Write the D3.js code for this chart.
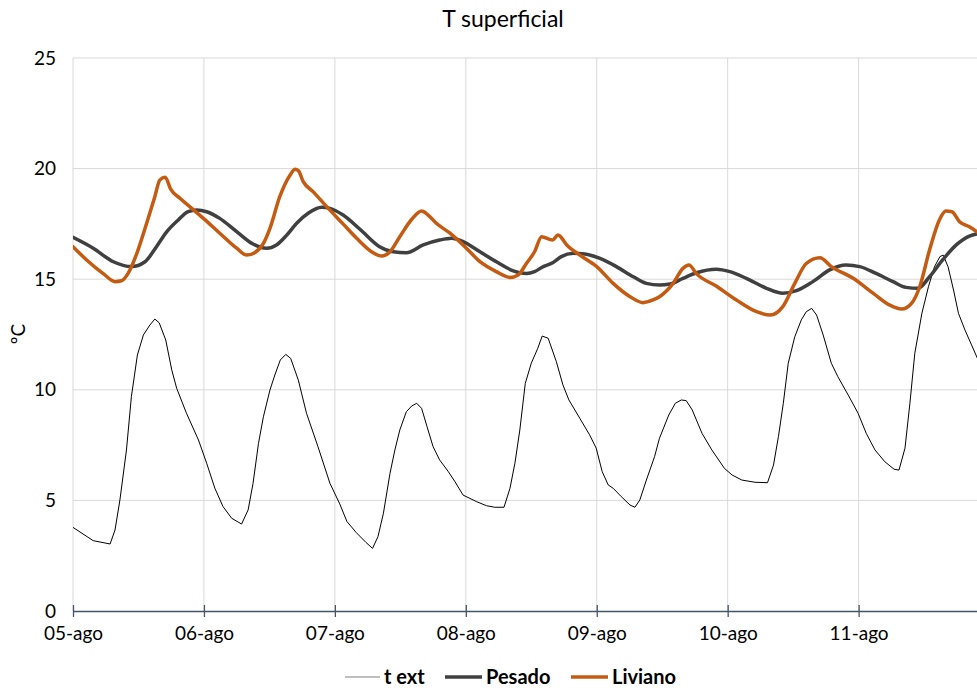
<!DOCTYPE html>
<html>
<head>
<meta charset="utf-8">
<script src="https://cdn.jsdelivr.net/npm/d3@7"></script>
<style>
  html, body { margin: 0; padding: 0; background: #fff; }
  svg { display: block; font-family: "Lato", "Open Sans", sans-serif; }
</style>
</head>
<body>
<svg id="chart" width="977" height="688"></svg>
<script>
// Hours since 05-ago 00:00 and temperatures (ºC)
const textHours = [0, 3.7, 6.8, 7.7, 8.6, 9.8, 10.7, 11.8, 12.9, 14.1, 15.0, 15.8, 17.0, 18.1, 19.0, 20.8, 23.0, 24.5, 26.0, 27.5, 29.1, 30.9, 32.1, 33.0, 34.0, 34.9, 36.1, 37.0, 38.0, 39.0, 39.9, 41.3, 42.8, 44.9, 47.1, 48.9, 50.2, 51.9, 53.7, 54.9, 55.9, 56.9, 58.1, 59.0, 59.9, 61.1, 62.1, 63.0, 63.9, 64.9, 66.0, 67.2, 68.8, 70.0, 71.5, 74.0, 75.8, 77.3, 79.0, 80.1, 81.0, 81.9, 82.9, 84.0, 85.2, 86.0, 87.1, 88.6, 89.8, 90.9, 92.9, 94.7, 95.9, 97.0, 98.1, 99.0, 100.5, 102.1, 103.0, 103.9, 105.1, 106.6, 107.5, 109.2, 110.4, 111.5, 112.4, 113.5, 115.3, 117.1, 119.4, 120.8, 122.6, 125.0, 127.3, 128.4, 129.3, 130.2, 131.1, 132.3, 133.5, 134.4, 135.4, 136.3, 137.5, 139.0, 140.2, 142.1, 143.9, 145.4, 147.0, 148.8, 150.5, 151.4, 152.5, 153.4, 154.3, 155.6, 156.8, 157.9, 158.9, 159.5, 160.4, 161.4, 162.3, 163.5, 164.7, 165.9];
const textValues = [3.78, 3.18, 3.03, 3.66, 5.02, 7.28, 9.69, 11.57, 12.48, 12.93, 13.2, 13.03, 12.25, 10.9, 10.07, 8.94, 7.73, 6.68, 5.55, 4.72, 4.19, 3.93, 4.57, 5.77, 7.58, 8.78, 9.99, 10.67, 11.35, 11.6, 11.42, 10.44, 8.94, 7.43, 5.77, 4.84, 4.05, 3.55, 3.1, 2.83, 3.36, 4.42, 6.22, 7.28, 8.18, 9.01, 9.27, 9.39, 9.16, 8.33, 7.43, 6.83, 6.30, 5.85, 5.24, 4.94, 4.76, 4.69, 4.69, 5.55, 6.68, 8.18, 10.29, 11.20, 11.88, 12.43, 12.33, 11.27, 10.22, 9.54, 8.71, 7.96, 7.36, 6.30, 5.70, 5.55, 5.17, 4.79, 4.69, 5.02, 5.92, 6.98, 7.81, 8.86, 9.39, 9.54, 9.51, 9.09, 8.03, 7.28, 6.45, 6.15, 5.92, 5.82, 5.80, 6.60, 7.88, 9.39, 11.20, 12.40, 13.16, 13.53, 13.68, 13.38, 12.48, 11.20, 10.59, 9.76, 8.94, 8.03, 7.28, 6.75, 6.41, 6.37, 7.36, 9.39, 11.65, 13.46, 14.66, 15.56, 16.02, 16.09, 15.56, 14.51, 13.46, 12.70, 12.03, 11.35];

const pesadoHours = [0, 3.7, 7.4, 10.7, 13.2, 15.3, 17.2, 19.3, 21.1, 22.7, 24.5, 26.9, 30.0, 33.0, 35.5, 37.3, 39.2, 41.0, 43.1, 45.6, 47.1, 49.5, 52.6, 56.2, 58.7, 61.1, 64.2, 67.2, 69.4, 71.5, 74.6, 77.6, 80.7, 83.1, 84.6, 86.2, 88.0, 89.5, 91.7, 93.8, 96.6, 99.6, 102.7, 105.1, 107.5, 109.4, 111.8, 114.3, 117.9, 120.4, 123.4, 127.1, 130.1, 132.6, 135.6, 138.7, 141.7, 144.2, 147.2, 150.3, 152.7, 154.9, 157.0, 159.4, 161.9, 164.3, 165.9];
const pesadoValues = [16.89, 16.40, 15.79, 15.57, 15.79, 16.47, 17.15, 17.68, 18.05, 18.13, 18.05, 17.75, 17.15, 16.59, 16.40, 16.55, 17.00, 17.53, 17.98, 18.25, 18.20, 17.90, 17.26, 16.47, 16.24, 16.20, 16.55, 16.77, 16.85, 16.70, 16.24, 15.79, 15.38, 15.26, 15.34, 15.57, 15.75, 16.02, 16.17, 16.14, 15.94, 15.57, 15.11, 14.81, 14.74, 14.78, 15.04, 15.29, 15.45, 15.34, 15.04, 14.59, 14.36, 14.48, 14.89, 15.42, 15.64, 15.57, 15.26, 14.89, 14.63, 14.59, 15.11, 15.87, 16.55, 16.95, 17.06];

const livianoHours = [0, 2.5, 5.6, 7.7, 8.9, 10.1, 11.7, 13.5, 15.0, 15.9, 16.9, 17.9, 19.6, 21.4, 23.9, 26.9, 30.0, 31.8, 33.3, 34.9, 36.1, 37.9, 39.8, 40.7, 41.3, 42.2, 44.0, 46.5, 49.5, 52.0, 55.0, 56.6, 58.1, 59.9, 62.1, 63.9, 65.1, 66.6, 69.1, 72.1, 74.6, 77.6, 80.1, 81.6, 83.1, 84.6, 85.9, 87.9, 88.9, 90.5, 92.9, 96.0, 99.0, 102.1, 104.5, 106.3, 107.5, 110.0, 111.8, 112.9, 114.3, 117.9, 121.6, 125.3, 127.8, 130.1, 132.3, 134.4, 136.9, 139.0, 143.0, 146.7, 149.7, 151.9, 153.7, 155.2, 157.0, 158.8, 160.0, 161.1, 162.5, 164.3, 165.9];
const livianoValues = [16.47, 15.87, 15.24, 14.89, 14.93, 15.26, 16.17, 17.53, 18.73, 19.48, 19.61, 19.07, 18.66, 18.28, 17.75, 17.08, 16.40, 16.09, 16.20, 16.62, 17.30, 18.73, 19.71, 19.97, 19.91, 19.41, 18.96, 18.28, 17.50, 16.85, 16.20, 16.05, 16.24, 16.92, 17.71, 18.08, 17.90, 17.53, 17.08, 16.40, 15.79, 15.34, 15.08, 15.19, 15.71, 16.24, 16.92, 16.77, 17.00, 16.55, 16.09, 15.57, 14.81, 14.21, 13.94, 14.06, 14.21, 14.81, 15.49, 15.64, 15.24, 14.69, 14.06, 13.53, 13.38, 13.76, 14.81, 15.71, 15.97, 15.57, 15.04, 14.36, 13.83, 13.65, 13.91, 14.66, 16.32, 17.68, 18.08, 18.05, 17.60, 17.37, 17.10];

const dayTicks = [0, 24, 48, 72, 96, 120, 144];
const dayLabels = ["05-ago", "06-ago", "07-ago", "08-ago", "09-ago", "10-ago", "11-ago"];
const yTicks = [0, 5, 10, 15, 20, 25];

const seriesNames = ["t ext", "Pesado", "Liviano"];
const seriesColors = ["#000000", "#404040", "#C55A11"];
const seriesWidths = [1, 3.5, 3.5];

const svg = d3.select("#chart");
const margin = { left: 73, right: 977, top: 58, bottom: 611 };

const x = d3.scaleLinear().domain([0, 165.7]).range([margin.left, margin.right]);
const y = d3.scaleLinear().domain([0, 25]).range([margin.bottom, margin.top]);

// Title
svg.append("text")
  .attr("x", 503).attr("y", 27)
  .attr("text-anchor", "middle")
  .attr("font-size", 23)
  .attr("fill", "#000")
  .text("T superficial");

// Horizontal gridlines
svg.append("g")
  .selectAll("line")
  .data(yTicks.filter(d => d > 0))
  .join("line")
  .attr("x1", margin.left).attr("x2", margin.right)
  .attr("y1", d => y(d)).attr("y2", d => y(d))
  .attr("stroke", "#d9d9d9").attr("stroke-width", 1);

// Vertical gridlines
svg.append("g")
  .selectAll("line")
  .data(dayTicks)
  .join("line")
  .attr("x1", d => x(d)).attr("x2", d => x(d))
  .attr("y1", margin.top).attr("y2", margin.bottom)
  .attr("stroke", "#d9d9d9").attr("stroke-width", 1);

// Y axis labels
const yAxis = d3.axisLeft(y).tickValues(yTicks).tickSize(0).tickPadding(17);
svg.append("g")
  .attr("transform", `translate(${margin.left},0)`)
  .call(yAxis)
  .call(g => g.select(".domain").remove())
  .call(g => g.selectAll("text")
    .attr("font-size", 19).attr("fill", "#000")
    .attr("font-family", "Lato, 'Open Sans', sans-serif"));

// Y axis title
svg.append("text")
  .attr("transform", "translate(25,334) rotate(-90)")
  .attr("text-anchor", "middle")
  .attr("font-size", 19)
  .attr("fill", "#000")
  .text("ºC");

// Lines
svg.append("clipPath").attr("id", "plotclip")
  .append("rect")
  .attr("x", margin.left).attr("y", 0)
  .attr("width", margin.right - margin.left).attr("height", margin.bottom);

const line = d3.line().x(d => x(d[0])).y(d => y(d[1]));
const smooth = d3.line().x(d => x(d[0])).y(d => y(d[1])).curve(d3.curveMonotoneX);

const series = [
  { pts: d3.zip(textHours, textValues), gen: line },
  { pts: d3.zip(pesadoHours, pesadoValues), gen: smooth },
  { pts: d3.zip(livianoHours, livianoValues), gen: smooth }
];

const plot = svg.append("g").attr("clip-path", "url(#plotclip)");
series.forEach((s, i) => {
  plot.append("path")
    .attr("d", s.gen(s.pts))
    .attr("fill", "none")
    .attr("stroke", seriesColors[i])
    .attr("stroke-width", seriesWidths[i])
    .attr("stroke-linejoin", "round")
    .attr("stroke-linecap", "round");
});

// X axis
const xAxis = d3.axisBottom(x)
  .tickValues(dayTicks)
  .tickFormat((d, i) => dayLabels[i])
  .tickSize(6)
  .tickSizeOuter(0)
  .tickPadding(10);
const xg = svg.append("g")
  .attr("transform", `translate(0,${margin.bottom})`)
  .call(xAxis);
xg.select(".domain").attr("stroke", "#44546A").attr("stroke-width", 1.3);
xg.selectAll(".tick line").attr("stroke", "#44546A").attr("y1", -6).attr("y2", 6).attr("stroke-width", 1.3);
xg.selectAll("text")
  .attr("font-size", 19).attr("fill", "#000")
  .attr("font-family", "Lato, 'Open Sans', sans-serif");

// Legend
const legendItems = [
  { x1: 345, x2: 380, tx: 384 },
  { x1: 445, x2: 482, tx: 486 },
  { x1: 571, x2: 608, tx: 612 }
];
const legend = svg.append("g");
legendItems.forEach((it, i) => {
  legend.append("line")
    .attr("x1", it.x1).attr("x2", it.x2)
    .attr("y1", 677).attr("y2", 677)
    .attr("stroke", i === 0 ? "#808080" : seriesColors[i])
    .attr("stroke-width", i === 0 ? 1.2 : 3.5);
  legend.append("text")
    .attr("x", it.tx).attr("y", 684)
    .attr("font-size", 20).attr("font-weight", "bold")
    .attr("fill", "#000")
    .text(seriesNames[i]);
});
</script>
</body>
</html>
